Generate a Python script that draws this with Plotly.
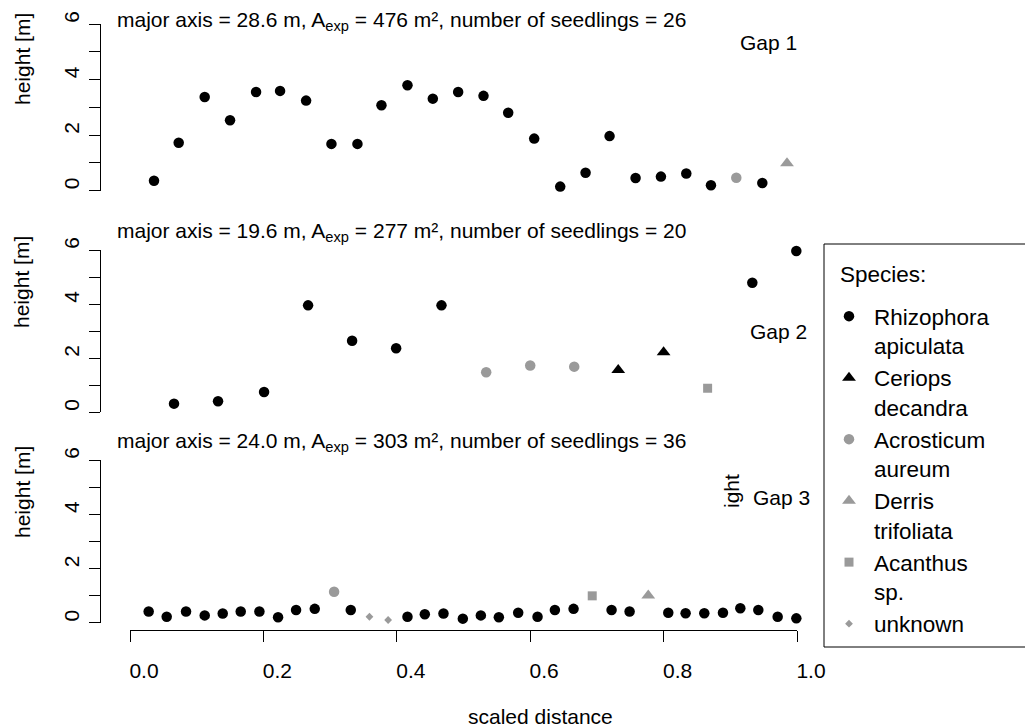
import plotly.graph_objects as go

W, H = 1025, 728

# ---- species definitions ----
species_names = ["Rhizophora<br>apiculata", "Ceriops<br>decandra", "Acrosticum<br>aureum",
                 "Derris<br>trifoliata", "Acanthus<br>sp.", "unknown"]
species_symbols = ["circle", "triangle-up", "circle", "triangle-up", "square", "diamond"]
species_colors = ["#000000", "#000000", "#9a9a9a", "#9a9a9a", "#9a9a9a", "#9a9a9a"]
species_sizes = [10.5, 12, 10.5, 12, 9, 6]

# ---- Gap 1 ----
gap1_x = [0.036, 0.073, 0.112, 0.150, 0.189, 0.225, 0.264, 0.302, 0.341, 0.377, 0.416, 0.454, 0.492,
          0.530, 0.567, 0.606, 0.645, 0.683, 0.719, 0.758, 0.796, 0.834, 0.871, 0.909, 0.948, 0.985]
gap1_h = [0.35, 1.72, 3.37, 2.53, 3.55, 3.59, 3.24, 1.68, 1.68, 3.07, 3.79, 3.31, 3.55,
          3.41, 2.80, 1.87, 0.14, 0.64, 1.96, 0.45, 0.50, 0.61, 0.19, 0.46, 0.27, 0.98]
gap1_sp = [0, 0, 0, 0, 0, 0, 0, 0, 0, 0, 0, 0, 0,
           0, 0, 0, 0, 0, 0, 0, 0, 0, 0, 2, 0, 3]

# ---- Gap 2 ----
gap2_x = [0.066, 0.132, 0.201, 0.267, 0.333, 0.399, 0.467, 0.534, 0.600, 0.666, 0.732, 0.800, 0.866, 0.933, 0.999]
gap2_h = [0.31, 0.40, 0.74, 3.95, 2.64, 2.36, 3.95, 1.47, 1.72, 1.68, 1.56, 2.21, 0.88, 4.79, 5.96]
gap2_sp = [0, 0, 0, 0, 0, 0, 0, 2, 2, 2, 1, 1, 4, 0, 0]

# ---- Gap 3 ----
gap3_x = [0.028, 0.055, 0.084, 0.112, 0.139, 0.166, 0.194, 0.222, 0.249, 0.277, 0.306, 0.331,
          0.359, 0.387, 0.416, 0.442, 0.470, 0.499, 0.526, 0.553, 0.582, 0.611, 0.637, 0.665,
          0.693, 0.722, 0.749, 0.777, 0.807, 0.833, 0.861, 0.889, 0.915, 0.942, 0.971, 0.999]
gap3_h = [0.41, 0.22, 0.41, 0.27, 0.34, 0.41, 0.41, 0.20, 0.47, 0.51, 1.14, 0.47,
          0.22, 0.10, 0.22, 0.31, 0.34, 0.15, 0.27, 0.20, 0.37, 0.22, 0.47, 0.51,
          0.99, 0.47, 0.41, 1.00, 0.37, 0.35, 0.35, 0.37, 0.53, 0.47, 0.22, 0.16]
gap3_sp = [0, 0, 0, 0, 0, 0, 0, 0, 0, 0, 2, 0,
           5, 5, 0, 0, 0, 0, 0, 0, 0, 0, 0, 0,
           4, 0, 0, 3, 0, 0, 0, 0, 0, 0, 0, 0]

gap_titles = [
    "major axis = 28.6 m, A<sub>exp</sub> = 476 m², number of seedlings = 26",
    "major axis = 19.6 m, A<sub>exp</sub> = 277 m², number of seedlings = 20",
    "major axis = 24.0 m, A<sub>exp</sub> = 303 m², number of seedlings = 36",
]
gap_labels = ["Gap 1", "Gap 2", "Gap 3"]
x_ticks = [0.0, 0.2, 0.4, 0.6, 0.8, 1.0]
x_ticktext = ["0.0", "0.2", "0.4", "0.6", "0.8", "1.0"]
y_ticks = [0, 2, 4, 6]
y_ticktext = ["0", "2", "4", "6"]

FONT = "Liberation Sans, Arial, Helvetica, sans-serif"
FS = 21


def px_x(p):
    return p / W


def px_y(p):
    return 1 - p / H


fig = go.Figure()

panels = [(gap1_x, gap1_h, gap1_sp, "y3"), (gap2_x, gap2_h, gap2_sp, "y2"), (gap3_x, gap3_h, gap3_sp, "y")]
shown = set()
for xs, hs, sps, yax in panels:
    for s in range(len(species_names)):
        px = [x for x, sp in zip(xs, sps) if sp == s]
        py = [h for h, sp in zip(hs, sps) if sp == s]
        if not px:
            continue
        fig.add_trace(go.Scatter(
            x=px, y=py, mode="markers", xaxis="x", yaxis=yax,
            name=species_names[s], legendgroup=str(s), legendrank=s + 1,
            showlegend=s not in shown, cliponaxis=False,
            marker=dict(symbol=species_symbols[s], color=species_colors[s],
                        size=species_sizes[s], line=dict(width=0)),
            hoverinfo="skip",
        ))
        shown.add(s)

yaxis_common = dict(
    range=[0, 6], anchor="free", position=px_x(100), showline=True, linecolor="black",
    linewidth=1, ticks="outside", ticklen=11, tickwidth=1, tickcolor="black",
    tickvals=y_ticks, ticktext=y_ticktext, tickangle=-90, showgrid=False, zeroline=False,
    minor=dict(dtick=1, tick0=0, ticks="outside", ticklen=11, tickwidth=1, tickcolor="black", showgrid=False),
    tickfont=dict(family=FONT, size=FS, color="black"), ticklabelstandoff=2, ticklabelshift=-4,
    automargin=False,
)

fig.update_layout(
    template="none",
    width=W, height=H, autosize=False,
    margin=dict(l=0, r=0, t=0, b=0, pad=0),
    paper_bgcolor="white", plot_bgcolor="white",
    font=dict(family=FONT, size=FS, color="black"),
    xaxis=dict(
        domain=[px_x(130), px_x(797)], range=[0, 1], anchor="free", position=px_y(630),
        showline=True, linecolor="black", linewidth=1, ticks="outside", ticklen=11,
        tickcolor="black", tickvals=x_ticks, ticktext=x_ticktext, showgrid=False, zeroline=False,
        tickfont=dict(family=FONT, size=FS, color="black"), ticklabelstandoff=11, ticklabelshift=14,
        automargin=False,
    ),
    yaxis=dict(domain=[px_y(622.7), px_y(460)], **yaxis_common),
    yaxis2=dict(domain=[px_y(412), px_y(250)], **yaxis_common),
    yaxis3=dict(domain=[px_y(190.5), px_y(24)], **yaxis_common),
    legend=dict(
        x=px_x(824), y=px_y(295), xanchor="left", yanchor="top",
        borderwidth=0, bgcolor="rgba(0,0,0,0)",
        font=dict(family=FONT, size=22.5, color="black"),
        valign="top", itemwidth=40, tracegroupgap=0, itemsizing="trace",
        itemclick=False, itemdoubleclick=False,
    ),
    showlegend=True,
)

# legend frame (right edge runs off the page as in the original)
fig.add_shape(type="rect", xref="paper", yref="paper", x0=px_x(824), x1=1.02,
              y0=px_y(647), y1=px_y(244), line=dict(color="black", width=1), fillcolor="rgba(0,0,0,0)",
              layer="below")

annotations = []
title_y = [21, 231.5, 442]
gap_pos = [(738, 42), (748, 332), (751, 497)]
ylab_bottom = [107, 330, 540]
for i in range(3):
    annotations.append(dict(text=gap_titles[i], x=px_x(115), y=px_y(title_y[i]), xref="paper", yref="paper",
                            xanchor="left", yanchor="middle", showarrow=False,
                            font=dict(family=FONT, size=FS, color="black")))
    annotations.append(dict(text=gap_labels[i], x=px_x(gap_pos[i][0]), y=px_y(gap_pos[i][1]),
                            xref="paper", yref="paper", xanchor="left", yanchor="middle",
                            showarrow=False, font=dict(family=FONT, size=FS, color="black")))
    annotations.append(dict(text="height [m]", x=px_x(22), y=px_y(ylab_bottom[i]), xref="paper", yref="paper",
                            xanchor="center", yanchor="bottom", textangle=-90, showarrow=False,
                            font=dict(family=FONT, size=FS, color="black")))
annotations.append(dict(text="ight", x=px_x(731), y=px_y(491), xref="paper", yref="paper",
                        xanchor="center", yanchor="middle", textangle=-90, showarrow=False,
                        font=dict(family=FONT, size=FS, color="black")))
annotations.append(dict(text="scaled distance", x=px_x(466), y=px_y(716), xref="paper", yref="paper",
                        xanchor="left", yanchor="middle", showarrow=False,
                        font=dict(family=FONT, size=FS, color="black")))
annotations.append(dict(text="Species:", x=px_x(838), y=px_y(274), xref="paper", yref="paper",
                        xanchor="left", yanchor="middle", showarrow=False,
                        font=dict(family=FONT, size=22.5, color="black")))
fig.update_layout(annotations=annotations)

fig.write_html("out.html")
